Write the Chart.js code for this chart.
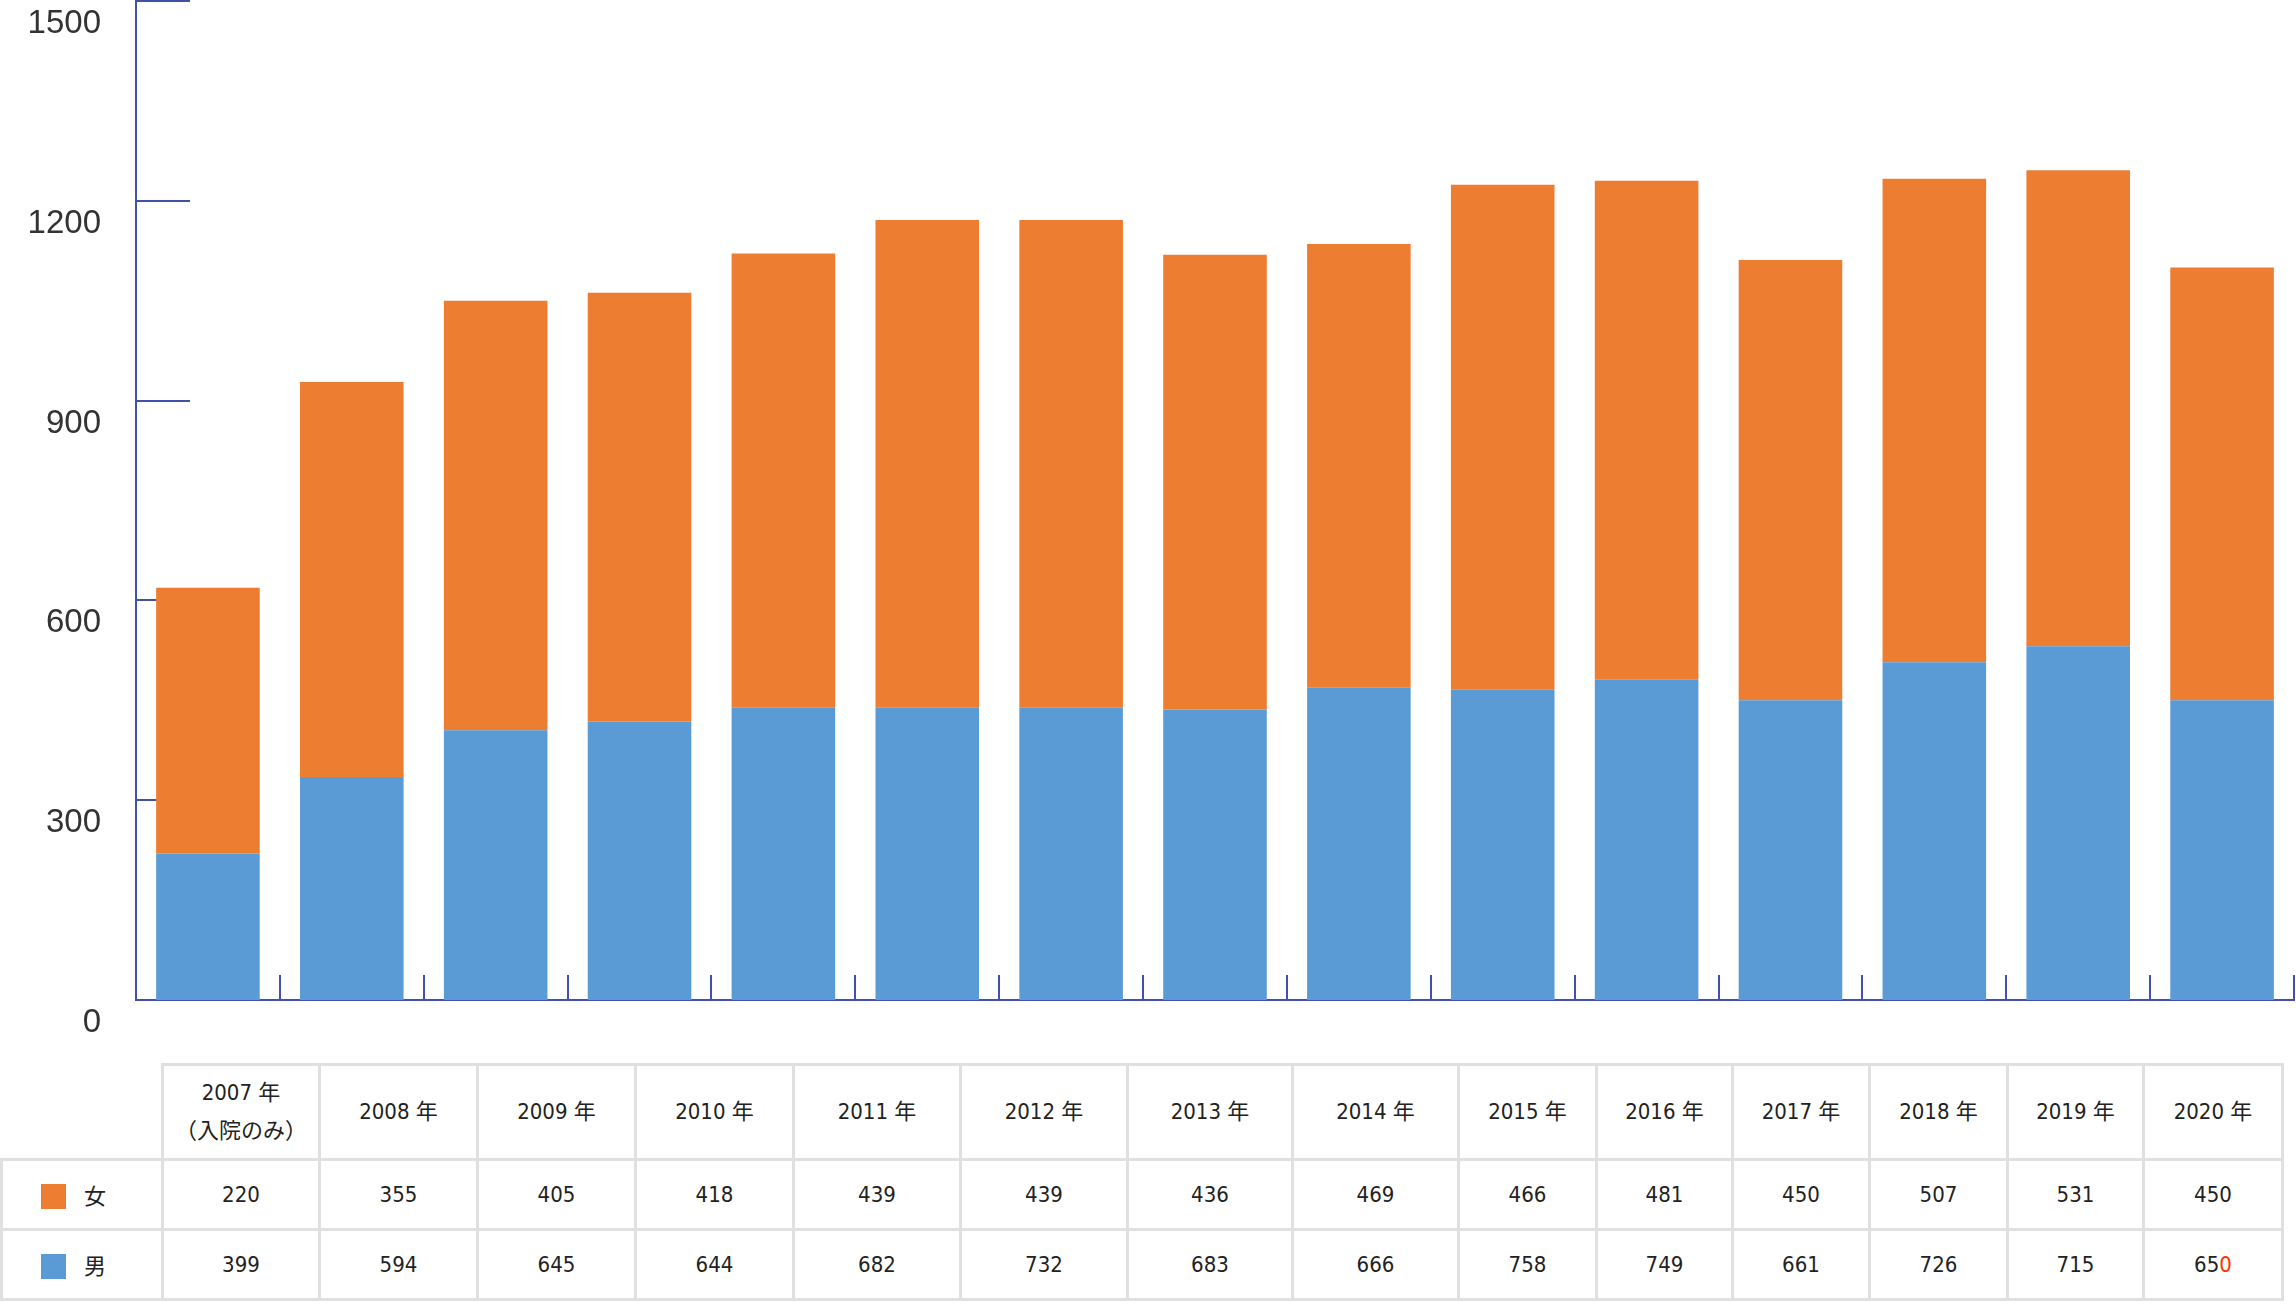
<!DOCTYPE html>
<html lang="ja">
<head>
<meta charset="utf-8">
<script src="https://cdn.jsdelivr.net/npm/chart.js@4.4.1/dist/chart.umd.min.js"></script>
<style>
  html, body { margin: 0; padding: 0; background: #fff; }
  body { width: 2296px; height: 1304px; position: relative; overflow: hidden; }
  #chartBox { position: absolute; left: 0; top: 0; width: 2296px; height: 1050px; }
  #dataTable {
    position: absolute; left: 0; top: 1063px;
    border-collapse: collapse; table-layout: fixed;
    font-family: "Liberation Sans Narrow", "DejaVu Sans Condensed", "Noto Sans CJK JP", sans-serif;
    font-size: 22px; color: #222;
  }
  #dataTable td, #dataTable th {
    border: 3px solid #e0e0e0; text-align: center; font-weight: normal; padding: 0;
  }
  #dataTable tr.head td { height: 92px; line-height: 38px; }
  #dataTable tr.row1 td { height: 67px; }
  #dataTable tr.row2 td { height: 67px; }
  #dataTable td.corner { border-top: none; border-left: none; }
  #dataTable td.legend { text-align: left; padding-left: 38px; }
  .swatch { display: inline-block; width: 25px; height: 25px; vertical-align: middle; margin-right: 18px; position: relative; top: -2px; }
  .red { color: #ff3300; }
</style>
</head>
<body>
<div id="chartBox"><canvas id="kanjaChart"></canvas></div>
<table id="dataTable"></table>
<script>
// bars as drawn in the chart (15 bars)
const barLabels = ['2007', '2008', '2009', '2010', '2011', '2012', '2012b', '2013', '2014', '2015', '2016', '2017', '2018', '2019', '2020'];
const barBlue = [220, 335, 405, 418, 439, 439, 439, 436, 469, 466, 481, 450, 507, 531, 450];
const barOrange = [399, 593, 645, 644, 682, 732, 732, 683, 666, 758, 749, 661, 726, 715, 650];

// table under the chart
const tableYears = ['2007 年<br>（入院のみ）', '2008 年', '2009 年', '2010 年', '2011 年', '2012 年', '2013 年',
  '2014 年', '2015 年', '2016 年', '2017 年', '2018 年', '2019 年', '2020 年'];
const tableFemale = [220, 355, 405, 418, 439, 439, 436, 469, 466, 481, 450, 507, 531, 450];
const tableMale = [399, 594, 645, 644, 682, 732, 683, 666, 758, 749, 661, 726, 715, 650];
const colWidths = [161, 157, 158, 158, 158, 167, 167, 165, 166, 138, 136, 137, 138, 136, 139];

const orange = '#ED7D31';
const blue = '#5B9BD5';
const axisColor = '#3f51a8';

// build the table
const table = document.getElementById('dataTable');
let html = '<colgroup>' + colWidths.map(w => `<col style="width:${w}px">`).join('') + '</colgroup>';
html += '<tr class="head"><td class="corner"></td>' + tableYears.map(y => `<td>${y}</td>`).join('') + '</tr>';
html += `<tr class="row1"><td class="legend"><span class="swatch" style="background:${orange}"></span>女</td>` +
  tableFemale.map(v => `<td>${v}</td>`).join('') + '</tr>';
html += `<tr class="row2"><td class="legend"><span class="swatch" style="background:${blue}"></span>男</td>` +
  tableMale.map((v, i) => {
    // last value has its final digit in red in the original
    if (i === tableMale.length - 1) {
      const s = String(v);
      return `<td>${s.slice(0, -1)}<span class="red">${s.slice(-1)}</span></td>`;
    }
    return `<td>${v}</td>`;
  }).join('') + '</tr>';
table.innerHTML = html;

// short tick marks pointing into the plot area
const inwardTicks = {
  id: 'inwardTicks',
  beforeDatasetsDraw(chart) {
    const { ctx, chartArea, scales: { x, y } } = chart;
    ctx.save();
    ctx.strokeStyle = axisColor;
    ctx.lineWidth = 2;
    ctx.beginPath();
    y.ticks.forEach(t => {
      const py = Math.round(y.getPixelForValue(t.value));
      ctx.moveTo(chartArea.left, py);
      ctx.lineTo(chartArea.left + 54, py);
    });
    const half = (x.getPixelForValue(1) - x.getPixelForValue(0)) / 2;
    for (let i = 0; i <= barLabels.length; i++) {
      const px = Math.round(x.getPixelForValue(i) - half);
      ctx.moveTo(px, chartArea.bottom);
      ctx.lineTo(px, chartArea.bottom - 25);
    }
    ctx.stroke();
    ctx.restore();
  }
};

const ctx = document.getElementById('kanjaChart').getContext('2d');
new Chart(ctx, {
  type: 'bar',
  data: {
    labels: barLabels,
    datasets: [
      { label: '女', data: barBlue, backgroundColor: blue, barPercentage: 0.72, categoryPercentage: 1.0 },
      { label: '男', data: barOrange, backgroundColor: orange, barPercentage: 0.72, categoryPercentage: 1.0 },
    ],
  },
  options: {
    responsive: true,
    maintainAspectRatio: false,
    animation: false,
    layout: { padding: { top: 1, right: 2, bottom: 50, left: 0 } },
    plugins: { legend: { display: false }, tooltip: { enabled: false } },
    scales: {
      x: {
        stacked: true,
        offset: true,
        grid: { display: false, drawTicks: false },
        ticks: { display: false },
        border: { display: true, color: axisColor, width: 2 },
        afterFit(scale) { scale.height = 0; },
      },
      y: {
        stacked: true,
        min: 0,
        max: 1500,
        grid: { display: false, drawTicks: false },
        border: { display: true, color: axisColor, width: 2 },
        ticks: {
          stepSize: 300,
          padding: 35,
          labelOffset: 23,
          color: '#333',
          font: { family: '"Liberation Sans Narrow", "Liberation Sans", sans-serif', size: 33 },
          callback: v => String(v),
        },
        afterFit(scale) {
          scale.width = 136;
          scale.paddingTop = 0;
          scale.paddingBottom = 0;
        },
      },
    },
  },
  plugins: [inwardTicks],
});
</script>
</body>
</html>
